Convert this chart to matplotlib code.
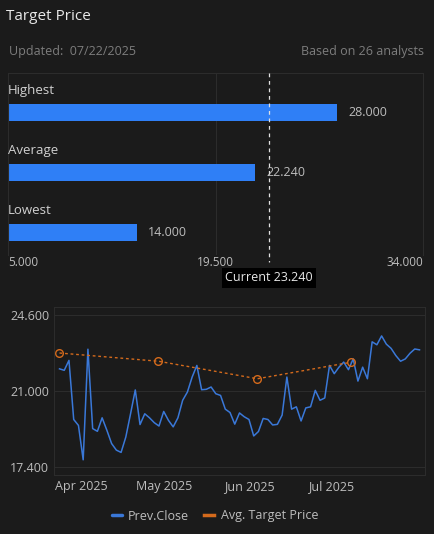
import matplotlib
matplotlib.use("Agg")
import matplotlib.pyplot as plt
import pandas as pd

plt.rcParams['font.family'] = ['Open Sans', 'DejaVu Sans']

categories = ["Highest", "Average", "Lowest"]
targets = [28.0, 22.24, 14.0]
current = 23.24
axis_ticks = [5.0, 19.5, 34.0]

close_vals = [22.05, 21.98, 22.45, 19.65, 19.37, 17.74, 22.98, 19.22, 19.09, 19.73, 19.14, 18.51,
              18.20, 18.09, 18.82, 19.92, 21.05, 19.41, 19.92, 19.73, 19.50, 19.34, 20.03, 19.61,
              19.30, 19.73, 20.56, 20.95, 21.66, 22.21, 21.06, 21.08, 21.19, 20.87, 20.79, 20.14,
              19.98, 19.43, 19.96, 19.78, 19.65, 18.87, 19.08, 19.70, 19.65, 19.39, 19.42, 19.86,
              21.66, 20.14, 20.25, 19.58, 20.20, 20.25, 21.03, 20.56, 20.67, 22.21, 21.82, 22.13,
              22.37, 22.01, 22.52, 21.47, 22.13, 21.58, 23.33, 23.19, 23.61, 23.22, 23.02, 22.68,
              22.41, 22.52, 22.79, 22.99, 22.95]
close_dates = pd.date_range("2025-03-24", "2025-08-02", periods=len(close_vals))
avg_dates = pd.to_datetime(["2025-03-24", "2025-04-29", "2025-06-04", "2025-07-08"])
avg_vals = [22.80, 22.41, 21.58, 22.36]

BG = "#1b1b1b"
W, H = 434, 534
fig = plt.figure(figsize=(W/100, H/100), dpi=100, facecolor=BG)

def fx(px): return px / W
def fy(py): return 1 - py / H

fig.text(fx(6), fy(17), "Target Price", color="#e8e8e8", fontsize=11, va="center")
fig.text(fx(9), fy(52), "Updated:  07/22/2025", color="#7d7d7d", fontsize=9, va="center")
fig.text(fx(424), fy(52), "Based on 26 analysts", color="#7d7d7d", fontsize=9, va="center", ha="right")

# bars
ax = fig.add_axes([fx(8), fy(255), fx(415), (255-73)/H])
ax.set_facecolor(BG)
ax.set_xlim(axis_ticks[0], axis_ticks[-1])
ax.set_ylim(255, 73)
ys = [112.5, 172.5, 232.5]
ax.barh(ys, [t - axis_ticks[0] for t in targets], left=axis_ticks[0], height=17, color="#2f7ff6", zorder=2)
for y, c, t in zip(ys, categories, targets):
    ax.text(axis_ticks[0], y - 22, c, color="#d0d0d0", fontsize=9.5, va="center")
    ax.text(t + 0.8, y, f"{t:.3f}", color="#bdbdbd", fontsize=9, va="center")
ax.axvline(axis_ticks[1], color="#2c2c2c", lw=0.8, zorder=1)
for s in ax.spines.values():
    s.set_color("#2c2c2c")
ax.spines['bottom'].set_visible(False)
ax.set_xticks([]); ax.set_yticks([])
ax.plot([current, current], [73, 262], color="#e0e0e0", ls=(0, (3, 3)), lw=0.9, clip_on=False, zorder=3)
for i, t in enumerate(axis_ticks):
    ha = ["left", "center", "right"][i]
    ax.text(t, 263, f"{t:.3f}", color="#bdbdbd", fontsize=8.5, va="center", ha=ha, clip_on=False)
ax.text(current, 278, f"Current {current:.3f}", color="#e8e8e8", fontsize=9, va="center", ha="center",
        clip_on=False, zorder=4, bbox=dict(boxstyle="square,pad=0.25", fc="#000000", ec="none"))

# line chart
ax2 = fig.add_axes([fx(54), fy(475), fx(371), (475-307)/H])
ax2.set_facecolor(BG)
ax2.plot(close_dates, close_vals, color="#3a78d8", lw=1.1, label="Prev.Close")
ax2.plot(avg_dates, avg_vals, color="#d46a1c", lw=1.0, ls=(0, (2, 2)), marker="o", ms=5.5,
         mfc="none", mec="#d46a1c", label="Avg. Target Price")
ax2.set_ylim(17.02, 24.98)
ax2.set_xlim(pd.Timestamp("2025-03-22"), pd.Timestamp("2025-08-04"))
ax2.set_yticks([17.4, 21.0, 24.6])
ax2.set_yticklabels(["17.400", "21.000", "24.600"])
ax2.set_xticks(pd.to_datetime(["2025-04-01", "2025-05-01", "2025-06-01", "2025-07-01"]))
ax2.set_xticklabels(["Apr 2025", "May 2025", "Jun 2025", "Jul 2025"])
ax2.grid(axis="y", color="#2c2c2c", lw=0.8)
ax2.set_axisbelow(True)
ax2.tick_params(colors="#bdbdbd", labelsize=9, length=0)
for s in ax2.spines.values():
    s.set_color("#2c2c2c")
leg = fig.legend(handles=[plt.Line2D([], [], color="#3a78d8", lw=2.5, solid_capstyle="round"),
                          plt.Line2D([], [], color="#d46a1c", lw=2.5)],
                 labels=["Prev.Close", "Avg. Target Price"], loc="center",
                 bbox_to_anchor=(fx(215), fy(516)), ncol=2, frameon=False, fontsize=9,
                 handlelength=0.8, columnspacing=1.2, handletextpad=0.5)
for t in leg.get_texts():
    t.set_color("#bdbdbd")

fig.savefig("out.png", dpi=100, facecolor=BG)
